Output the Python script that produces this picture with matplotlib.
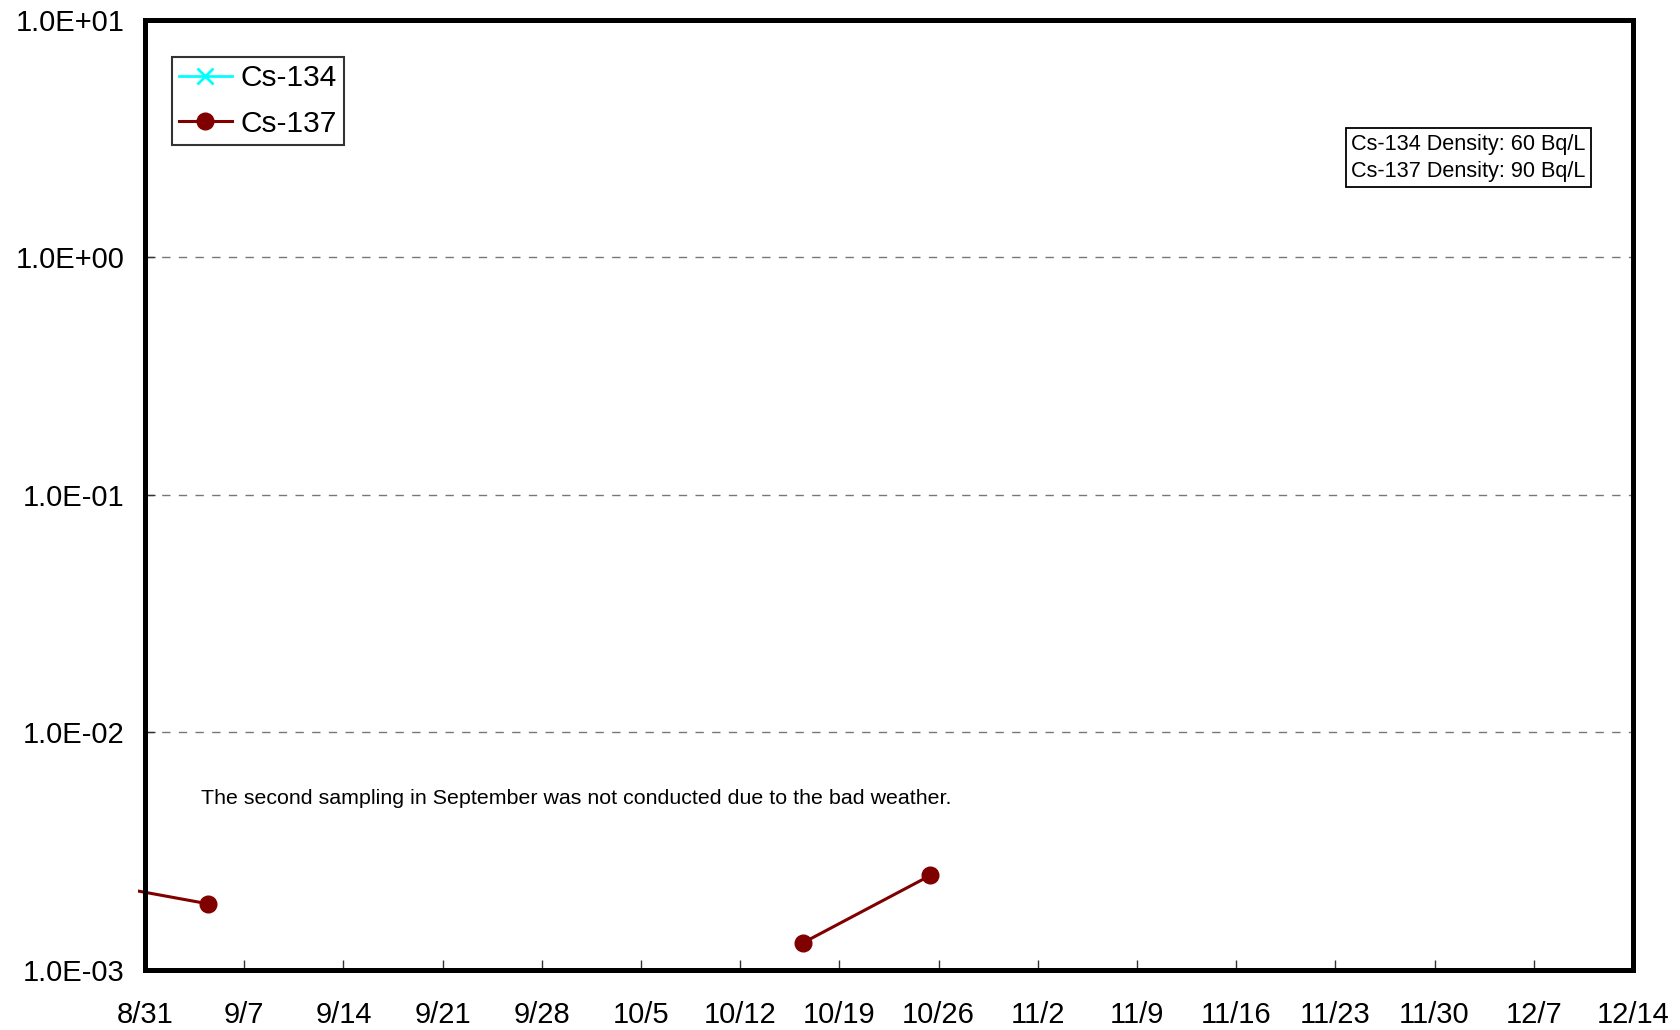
import matplotlib
matplotlib.use("Agg")
import matplotlib.pyplot as plt
import matplotlib.patches as patches
import numpy as np
import datetime as dt

plt.rcParams['font.family'] = ['Liberation Sans', 'DejaVu Sans']

# Cs-137 samples (NaN = not detected / not sampled)
dates_137 = ["2013-08-21 10:00", "2013-09-04 10:00", "2013-09-18 10:00",
             "2013-10-02 10:00", "2013-10-16 10:00", "2013-10-25 10:00"]
vals_137 = [2.7e-3, 1.9e-3, np.nan, np.nan, 1.3e-3, 2.5e-3]

# Cs-134 (nothing detected in this period)
dates_134 = ["2013-09-04 10:00", "2013-10-16 10:00", "2013-10-25 10:00"]
vals_134 = [np.nan, np.nan, np.nan]

x_ticks = ["2013-08-31", "2013-09-07", "2013-09-14", "2013-09-21", "2013-09-28",
           "2013-10-05", "2013-10-12", "2013-10-19", "2013-10-26", "2013-11-02",
           "2013-11-09", "2013-11-16", "2013-11-23", "2013-11-30", "2013-12-07",
           "2013-12-14"]
y_ticks = [1e-3, 1e-2, 1e-1, 1e0, 1e1]

note_text = "The second sampling in September was not conducted due to the bad weather."
density_text = "Cs-134 Density: 60 Bq/L\nCs-137 Density: 90 Bq/L"


def to_dt(s):
    fmt = "%Y-%m-%d %H:%M" if " " in s else "%Y-%m-%d"
    return dt.datetime.strptime(s, fmt)


fig = plt.figure(figsize=(16.81, 10.30), dpi=100)
ax = fig.add_axes([0.0863, 0.0583, 0.8851, 0.9223])

l134, = ax.plot([to_dt(d) for d in dates_134], vals_134, color='cyan', lw=2,
                marker='x', ms=12, mew=2, label='Cs-134')
l137, = ax.plot([to_dt(d) for d in dates_137], vals_137, color='#800000', lw=2.2,
                marker='o', ms=12, label='Cs-137')

# let the line poke a little past the left edge like the original
clip = patches.Rectangle((-0.005, 0), 1.005, 1, transform=ax.transAxes,
                         facecolor='none', edgecolor='none')
ax.add_patch(clip)
l137.set_clip_path(clip)

ax.set_yscale('log')
ax.set_ylim(1e-3, 1e1)
ax.set_xlim(to_dt(x_ticks[0]), to_dt(x_ticks[-1]))
ax.set_yticks(y_ticks)
ax.yaxis.set_minor_locator(matplotlib.ticker.NullLocator())
ax.set_yticklabels(["%.1E" % v for v in y_ticks])
ax.set_xticks([to_dt(d) for d in x_ticks])
ax.set_xticklabels(["%d/%d" % (to_dt(d).month, to_dt(d).day) for d in x_ticks])

ax.tick_params(axis='both', direction='in', length=7, width=1, color='#333333')
ax.tick_params(axis='x', labelsize=21, pad=22)
ax.tick_params(axis='y', labelsize=21, pad=15)

for v in y_ticks[1:-1]:
    ax.axhline(v, color='#777777', lw=1, ls=(0, (6, 6)), zorder=0)

for s in ax.spines.values():
    s.set_linewidth(3.6)
    s.set_color('black')

leg = ax.legend(handles=[l134, l137], loc='upper left', bbox_to_anchor=(0.018, 0.961),
                fontsize=21.5, frameon=True, fancybox=False, edgecolor='black',
                handlelength=1.75, handletextpad=0.3, borderpad=0.25,
                labelspacing=0.58, borderaxespad=0)
leg.get_frame().set_linewidth(1.5)

ax.text(0.968, 0.855, density_text, transform=ax.transAxes, fontsize=15.6,
        ha='right', va='center', linespacing=1.4,
        bbox=dict(boxstyle='square,pad=0.25', facecolor='white',
                  edgecolor='black', lw=1.3))

ax.text(0.0373, 0.181, note_text, transform=ax.transAxes, fontsize=15.4,
        ha='left', va='center')

fig.savefig("out.png", dpi=100)
